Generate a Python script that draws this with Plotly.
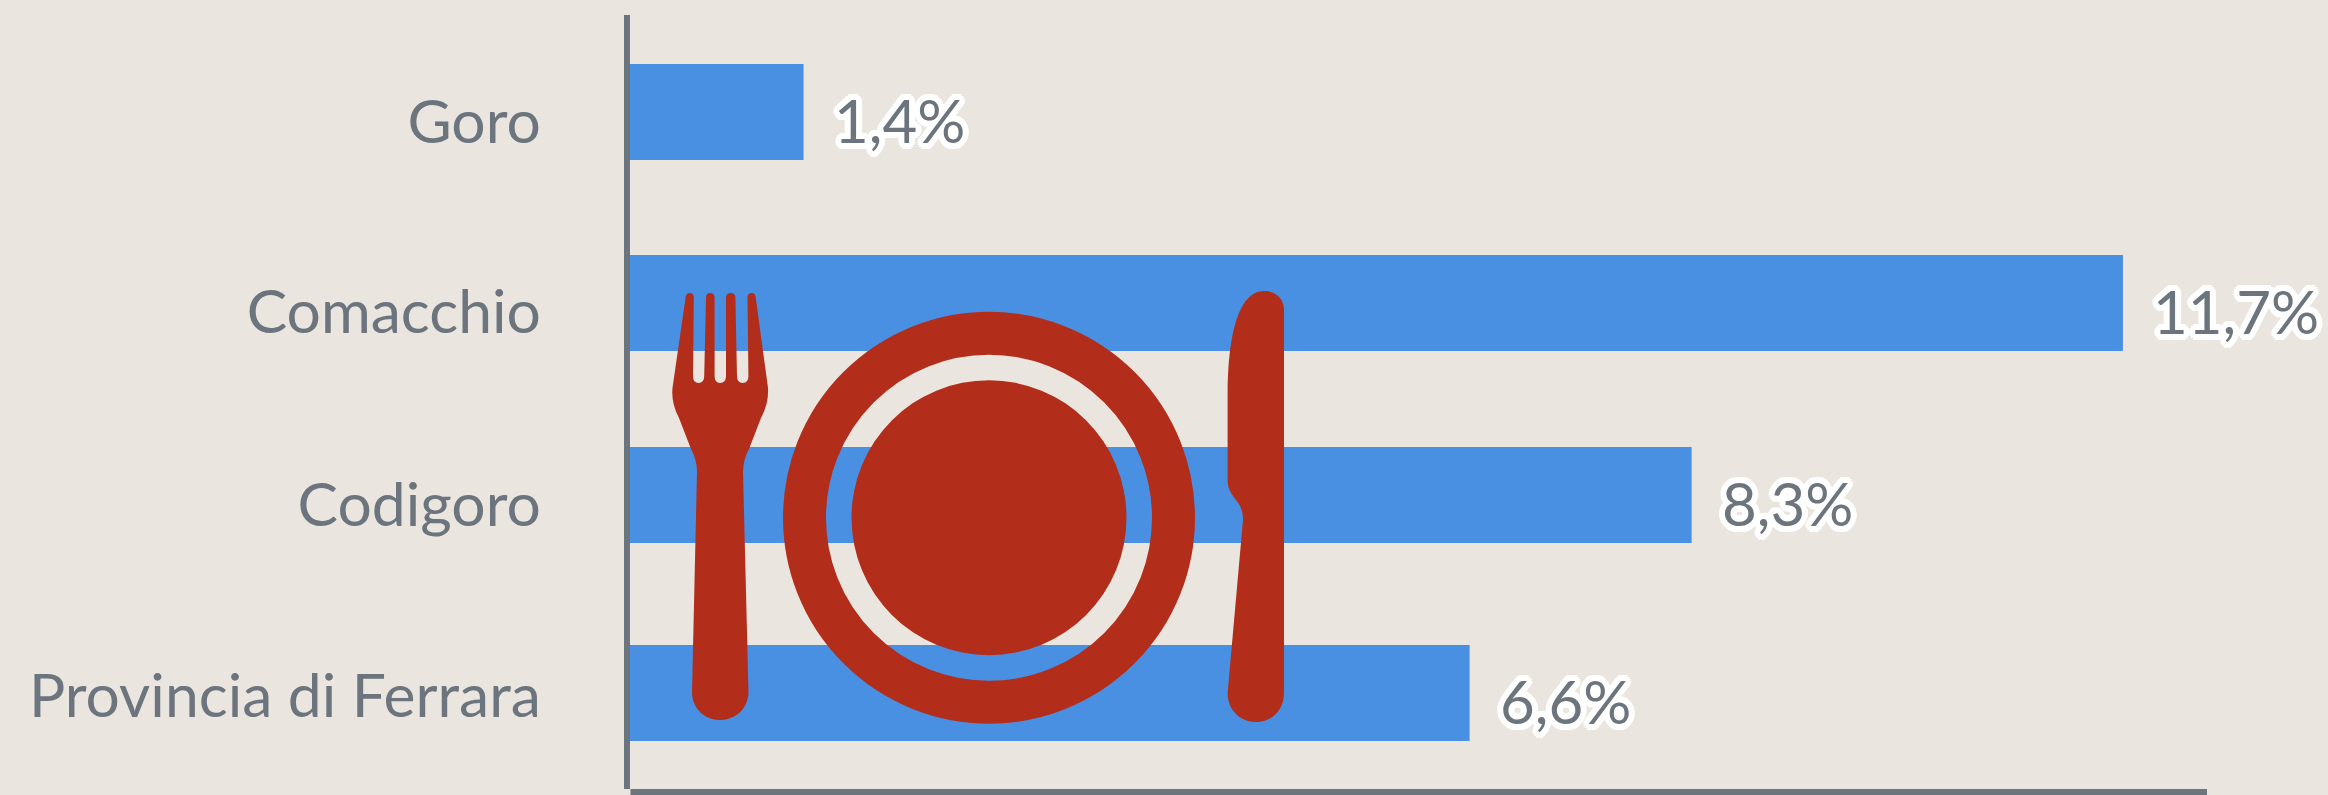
import math
import plotly.graph_objects as go

categories = ["Goro", "Comacchio", "Codigoro", "Provincia di Ferrara"]
values = [1.36, 11.7, 8.32, 6.58]
bar_rows = [0, 0.995, 1.995, 3.026]
tick_rows = [0.053, 1.043, 2.048, 3.04]

W, H = 2328, 795
L, R, T, B = 630, 2207, 15, 789
BG = "#EAE5DF"
BLUE = "#4A90E2"
RED = "#B32D1B"
GREY = "#6C757D"
FONT = "Lato, Carlito, 'Open Sans', sans-serif"


def px(x):
    return (x - L) / (R - L)


def py(y):
    return (B - y) / (B - T)


def path(cmds):
    out = []
    for c in cmds:
        op, pts = c[0], c[1:]
        nums = []
        for i in range(0, len(pts), 2):
            nums.append(f"{px(pts[i]):.5f},{py(pts[i + 1]):.5f}")
        out.append(op + " " + " ".join(nums))
    return " ".join(out) + " Z"


fork = [
    ("M", 685.5, 298), ("Q", 686, 293, 689.5, 293), ("Q", 693.8, 293, 693.8, 298),
    ("L", 693, 376), ("Q", 693, 383, 698.5, 383), ("Q", 704.2, 383, 704.2, 376),
    ("L", 706, 298), ("Q", 706, 293, 710, 293), ("Q", 714.6, 293, 714.6, 298),
    ("L", 714.6, 376), ("Q", 714.6, 383, 720, 383), ("Q", 726, 383, 726, 376),
    ("L", 726, 298), ("Q", 726, 293, 730.5, 293), ("Q", 735.4, 293, 735.4, 298),
    ("L", 737, 376), ("Q", 737, 383, 742.7, 383), ("Q", 748.4, 383, 748.4, 376),
    ("L", 747.5, 298), ("Q", 747.5, 293, 751.5, 293), ("Q", 755.8, 293, 755.8, 298),
    ("L", 768, 388), ("Q", 769, 403, 761, 418), ("L", 749, 449), ("Q", 743, 460, 743, 472),
    ("L", 748.5, 692), ("C", 748.5, 708, 736, 720, 720, 720), ("C", 704, 720, 692, 708, 692, 692),
    ("L", 697, 472), ("Q", 697, 460, 691, 449), ("L", 679, 418), ("Q", 671, 403, 672.5, 388),
]
knife = [
    ("M", 1284, 310), ("L", 1284, 693), ("C", 1284, 710, 1272, 722, 1256, 722),
    ("C", 1240, 722, 1227.6, 710, 1227.6, 693), ("L", 1243, 520),
    ("C", 1243, 510, 1240, 505, 1236, 500), ("C", 1230, 492, 1227.6, 488, 1227.6, 480),
    ("L", 1227.6, 397), ("C", 1227.6, 330, 1240, 291, 1264, 291),
    ("C", 1276, 291, 1284, 299, 1284, 310),
]


def circle(cx, cy, r, **kw):
    return dict(type="circle", xref="paper", yref="paper", layer="above",
                x0=px(cx - r), x1=px(cx + r), y0=py(cy + r), y1=py(cy - r), **kw)


shapes = [
    dict(type="path", xref="paper", yref="paper", layer="above", path=path(fork),
         fillcolor=RED, line=dict(width=0)),
    dict(type="path", xref="paper", yref="paper", layer="above", path=path(knife),
         fillcolor=RED, line=dict(width=0)),
    circle(989, 517.7, 184.5, fillcolor="rgba(0,0,0,0)", line=dict(color=RED, width=43)),
    circle(989, 517.7, 137.5, fillcolor=RED, line=dict(width=0)),
    # The reference leaves the corner between the two axis lines open.
    dict(type="rect", xref="paper", yref="paper", layer="above",
         x0=px(622), x1=px(630.5), y0=py(796), y1=py(789),
         fillcolor=BG, line=dict(width=0)),
]

halo = ", ".join(
    f"{6 * math.cos(a * math.pi / 8):.2f}px {6 * math.sin(a * math.pi / 8):.2f}px 0 #fff"
    for a in range(16)
)

annotations = [
    dict(x=v, y=r, xref="x", yref="y", xanchor="left", yanchor="middle", showarrow=False,
         text=f"{v:.1f}%".replace(".", ","), xshift=28, yshift=-8,
         font=dict(family=FONT, size=60, color=GREY, shadow=halo))
    for v, r in zip(values, bar_rows)
]

fig = go.Figure(go.Bar(
    x=values, y=bar_rows, orientation="h", width=0.5,
    marker=dict(color=BLUE, line=dict(width=0)), hoverinfo="skip",
))
fig.update_layout(
    width=W, height=H, autosize=False, showlegend=False,
    margin=dict(l=L, r=W - R, t=T, b=H - B, pad=0),
    paper_bgcolor=BG, plot_bgcolor=BG,
    shapes=shapes, annotations=annotations,
    xaxis=dict(range=[0, (R - L) / 127.6], showgrid=False, zeroline=False,
               showticklabels=False, ticks="", showline=True, linecolor=GREY, linewidth=6),
    yaxis=dict(range=[3.526, -0.505], showgrid=False, zeroline=False,
               tickmode="array", tickvals=tick_rows, ticktext=categories, ticks="",
               ticklabelstandoff=71, tickfont=dict(family=FONT, size=60.6, color=GREY),
               showline=True, linecolor=GREY, linewidth=6),
)
fig.write_html(
    "out.html", config=dict(displayModeBar=False),
    post_script="document.documentElement.style.overflow='hidden';"
                "document.body.style.margin='0';document.body.style.background='" + BG + "';",
)
